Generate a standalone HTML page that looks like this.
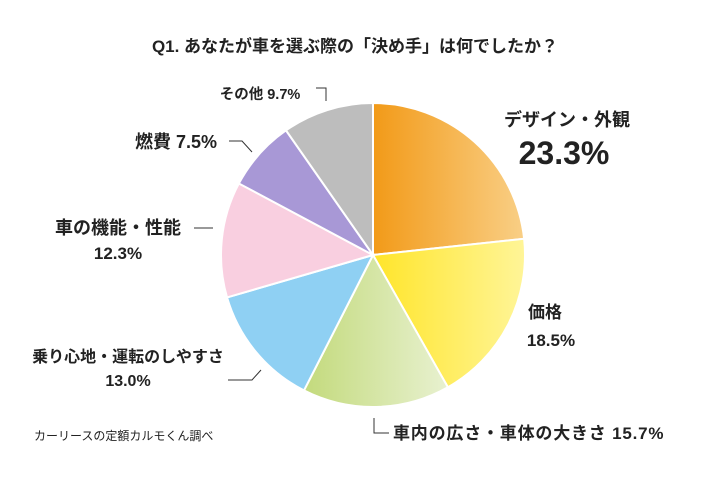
<!DOCTYPE html>
<html><head><meta charset="utf-8"><style>
body{margin:0;background:#fff;}
svg text{font-family:"Liberation Sans","Noto Sans CJK JP",sans-serif;font-weight:bold;fill:#222;}
</style></head><body>
<svg width="710" height="474" viewBox="0 0 710 474">
<defs>
<linearGradient id="g0" x1="0" x2="1" y1="0" y2="0"><stop offset="0" stop-color="#f29a18"/><stop offset="1" stop-color="#f9cf86"/></linearGradient>
<linearGradient id="g1" x1="0" x2="1" y1="0" y2="0"><stop offset="0" stop-color="#ffe52a"/><stop offset="1" stop-color="#fff598"/></linearGradient>
<linearGradient id="g2" x1="0" x2="1" y1="0" y2="0"><stop offset="0" stop-color="#c3da7c"/><stop offset="1" stop-color="#e8f1d0"/></linearGradient>
</defs>
<text x="355" y="52" font-size="17" text-anchor="middle">Q1. あなたが車を選ぶ際の「決め手」は何でしたか？</text>
<g id="slices"></g>
<g stroke="#333" stroke-width="1" fill="none">
<polyline points="316,88 326,88 326,101"/>
<polyline points="229,141 242,141 252,152"/>
<polyline points="194,228 213,228"/>
<polyline points="228,380 252,380 261,370"/>
<polyline points="374,418 374,433 389,433"/>
</g>
<text x="567" y="126" font-size="18" text-anchor="middle">デザイン・外観</text>
<text x="564" y="164" font-size="32" text-anchor="middle">23.3%</text>
<text x="545" y="318" font-size="17" text-anchor="middle">価格</text>
<text x="551" y="346" font-size="17" text-anchor="middle">18.5%</text>
<text x="393" y="439" font-size="17" letter-spacing="0.8">車内の広さ・車体の大きさ 15.7%</text>
<text x="128" y="362" font-size="16" text-anchor="middle">乗り心地・運転のしやすさ</text>
<text x="128" y="386" font-size="16" text-anchor="middle">13.0%</text>
<text x="118" y="234" font-size="18" text-anchor="middle">車の機能・性能</text>
<text x="118" y="259" font-size="17" text-anchor="middle">12.3%</text>
<text x="176" y="148" font-size="18" text-anchor="middle">燃費 7.5%</text>
<text x="260" y="99" font-size="14.5" text-anchor="middle">その他 9.7%</text>
<text x="34" y="440" font-size="12" style="font-weight:normal">カーリースの定額カルモくん調べ</text>
</svg>
<script>
const categories=["デザイン・外観","価格","車内の広さ・車体の大きさ","乗り心地・運転のしやすさ","車の機能・性能","燃費","その他"];
const values=[23.3,18.5,15.7,13.0,12.3,7.5,9.7];
const fills=["url(#g0)","url(#g1)","url(#g2)","#8fd0f3","#f9cfe0","#a898d6","#bdbdbd"];
const cx=373,cy=255,r=152;
const total=values.reduce((a,b)=>a+b,0);
const g=document.getElementById('slices');
let a0=0;
values.forEach((v,i)=>{
  const a1=a0+v/total*2*Math.PI;
  const x0=cx+r*Math.sin(a0),y0=cy-r*Math.cos(a0),x1=cx+r*Math.sin(a1),y1=cy-r*Math.cos(a1);
  const p=document.createElementNS('http://www.w3.org/2000/svg','path');
  p.setAttribute('d',`M${cx},${cy}L${x0},${y0}A${r},${r} 0 ${a1-a0>Math.PI?1:0} 1 ${x1},${y1}Z`);
  p.setAttribute('fill',fills[i]);p.setAttribute('stroke','#fff');p.setAttribute('stroke-width','2');
  
  
  g.appendChild(p);
  a0=a1;
});
</script>
</body></html>
